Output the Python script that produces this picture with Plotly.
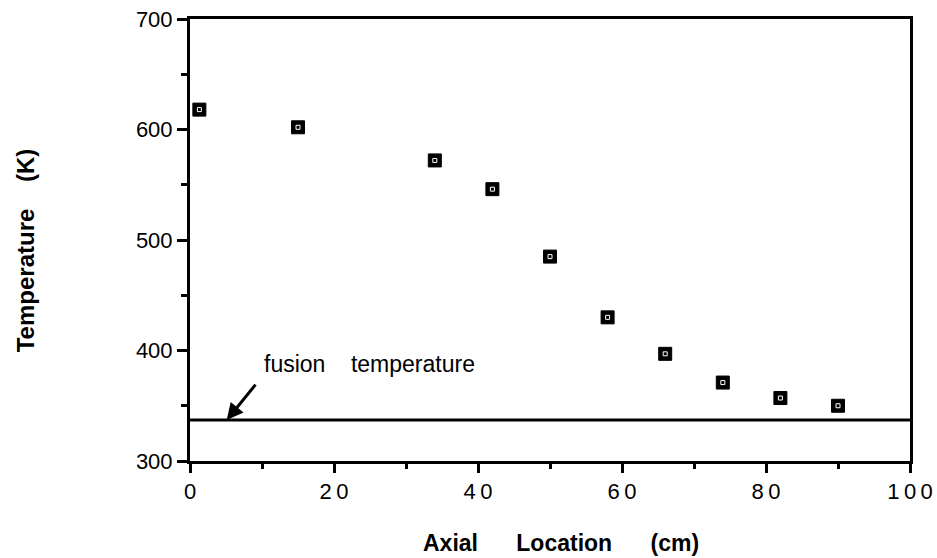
import plotly.graph_objects as go

# Data
axial_cm = [1.3, 15, 34, 42, 50, 58, 66, 74, 82, 90]
temperature_k = [618, 602, 572, 546, 485, 430, 397, 371, 357, 350]
fusion_x = [0, 100]
fusion_temp = [337, 337]
x_ticks = [0, 20, 40, 60, 80, 100]
x_ticklabels = ["0", "2\u20090", "4\u20090", "6\u20090", "8\u20090", "1\u20090\u20090"]
y_ticks = [300, 400, 500, 600, 700]
y_ticklabels = ["300", "400", "500", "600", "700"]

FONT = "Liberation Sans, Arial, sans-serif"

fig = go.Figure()
fig.add_trace(go.Scatter(x=fusion_x, y=fusion_temp, mode="lines",
                         line=dict(color="black", width=3), showlegend=False,
                         hoverinfo="skip"))
fig.add_trace(go.Scatter(x=axial_cm, y=temperature_k, mode="markers",
                         marker=dict(symbol="square", size=13, color="black",
                                     line=dict(color="black", width=1)),
                         showlegend=False, cliponaxis=False))
fig.add_trace(go.Scatter(x=axial_cm, y=temperature_k, mode="markers",
                         marker=dict(symbol="square-open", size=4, color="white",
                                     line=dict(color="white", width=1)),
                         showlegend=False, hoverinfo="skip", cliponaxis=False))

fig.add_annotation(x=5.1, y=337, ax=30, ay=-37, xref="x", yref="y",
                   showarrow=True, arrowhead=2, arrowsize=1.1, arrowwidth=3,
                   arrowcolor="black", text="")
fig.add_annotation(x=10, y=388, xref="x", yref="y", text="fusion    temperature",
                   showarrow=False, xanchor="left", yanchor="middle",
                   font=dict(family=FONT, size=23, color="black"))

# axis titles (plot area: x 190..910, y 19..461 in page pixels)
fig.add_annotation(x=0.515, y=-0.186, xref="paper", yref="paper",
                   text="<b>Axial      Location      (cm)</b>", showarrow=False,
                   xanchor="center", yanchor="middle",
                   font=dict(family=FONT, size=23, color="black"))
fig.add_annotation(x=-0.229, y=0.477, xref="paper", yref="paper",
                   text="<b>Temperature    (K)</b>", showarrow=False, textangle=-90,
                   xanchor="center", yanchor="middle",
                   font=dict(family=FONT, size=24, color="black"))

fig.update_layout(
    width=937, height=558,
    margin=dict(l=190, r=27, t=19, b=97, autoexpand=False),
    paper_bgcolor="white", plot_bgcolor="white",
    font=dict(family=FONT, color="black"),
)
fig.update_xaxes(
    range=[0, 100], tickmode="array", tickvals=x_ticks, ticktext=x_ticklabels,
    showgrid=False, zeroline=False, showline=True, linecolor="black", linewidth=3,
    mirror=True, ticks="outside", ticklen=9, tickwidth=2.5, tickcolor="black",
    minor=dict(dtick=10, ticks="outside", ticklen=5, tickwidth=2.5, tickcolor="black"),
    tickfont=dict(family=FONT, size=22, color="black"), automargin=False,
    ticklabeloverflow="allow",
)
fig.update_yaxes(
    range=[300, 700], tickmode="array", tickvals=y_ticks, ticktext=y_ticklabels,
    showgrid=False, zeroline=False, showline=True, linecolor="black", linewidth=3,
    mirror=True, ticks="outside", ticklen=10, tickwidth=2.5, tickcolor="black",
    minor=dict(dtick=50, ticks="outside", ticklen=6, tickwidth=2.5, tickcolor="black"),
    tickfont=dict(family=FONT, size=22, color="black"), automargin=False,
    ticklabeloverflow="allow",
)

fig.write_html("out.html", config={"displayModeBar": False},
               post_script="document.body.style.margin='0px';")
